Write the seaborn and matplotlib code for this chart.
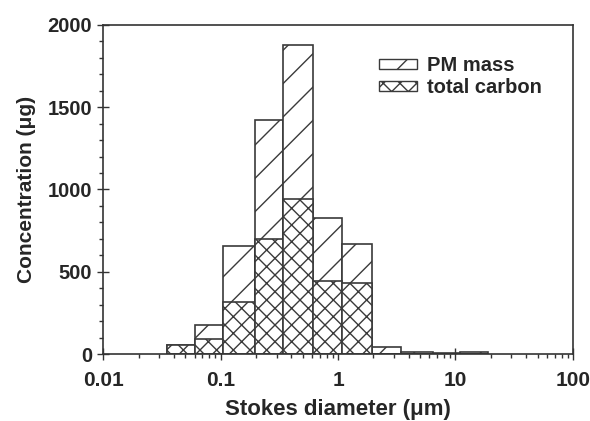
import numpy as np
import pandas as pd
import matplotlib
matplotlib.use("Agg")
import matplotlib.pyplot as plt
import seaborn as sns
from matplotlib.ticker import MultipleLocator, LogLocator, FixedLocator, NullFormatter
from matplotlib.patches import Patch

# bin edges of the impactor stages (um)
bin_edges = [0.035, 0.061, 0.105, 0.197, 0.342, 0.609, 1.07, 1.94, 3.44, 6.4, 11.0, 19.0]
pm_mass = [55, 176, 656, 1422, 1877, 828, 669, 44, 10, 8, 12]
total_carbon = [55, 89, 315, 697, 942, 446, 433, 0, 0, 0, 0]

x_ticks = [0.01, 0.1, 1, 10, 100]
x_labels = ["0.01", "0.1", "1", "10", "100"]

sns.set_style("ticks")
plt.rcParams["font.family"] = ["Liberation Sans", "DejaVu Sans"]
plt.rcParams["font.weight"] = "bold"
plt.rcParams["hatch.linewidth"] = 1.0

edges = np.array(bin_edges)
mids = np.sqrt(edges[:-1] * edges[1:])
df = pd.DataFrame({"diam": mids, "pm": pm_mass, "tc": total_carbon})
log_bins = list(np.log10(edges))  # histplot bins in log space when log_scale=True

fig = plt.figure(figsize=(5.9, 4.21), dpi=100)
ax = fig.add_axes([0.175, 0.159, 0.796, 0.782])

edge_col = "#3a3a3a"
sns.histplot(data=df, x="diam", weights="pm", bins=log_bins, log_scale=True,
             stat="count", element="bars", fill=True, color="white",
             edgecolor=edge_col, linewidth=1.2, hatch="/", alpha=1, ax=ax)
sns.histplot(data=df, x="diam", weights="tc", bins=log_bins, log_scale=True,
             stat="count", element="bars", fill=True, color="white",
             edgecolor=edge_col, linewidth=1.2, hatch="xx", alpha=1, ax=ax)

ax.set_xscale("log")
ax.set_xlim(0.01, 100)
ax.set_ylim(0, 2000)
ax.xaxis.set_major_locator(FixedLocator(x_ticks))
ax.set_xticklabels(x_labels)
ax.xaxis.set_minor_locator(LogLocator(base=10, subs=np.arange(2, 10)))
ax.xaxis.set_minor_formatter(NullFormatter())
ax.yaxis.set_major_locator(MultipleLocator(500))
ax.yaxis.set_minor_locator(MultipleLocator(100))

ax.tick_params(axis="both", which="major", direction="inout", length=8, width=1,
               top=False, right=False, color="#333333")
ax.tick_params(axis="x", which="major", pad=8.5, labelsize=15)
ax.tick_params(axis="y", which="major", pad=4, labelsize=14.5)
ax.tick_params(axis="both", which="minor", direction="out", length=3, width=1,
               top=False, right=False, color="#333333")
for lab in ax.get_xticklabels() + ax.get_yticklabels():
    lab.set_fontweight("bold")
for sp in ax.spines.values():
    sp.set_visible(True)
    sp.set_linewidth(1.2)
    sp.set_color("#333333")

ax.set_xlabel("Stokes diameter (\u03bcm)", fontsize=16, fontweight="bold", labelpad=6)
ax.set_ylabel("Concentration (\u03bcg)", fontsize=15, fontweight="bold", labelpad=8)

handles = [Patch(facecolor="white", edgecolor=edge_col, hatch="/", label="PM mass"),
           Patch(facecolor="white", edgecolor=edge_col, hatch="xx", label="total carbon")]
leg = ax.legend(handles=handles, loc="upper left", bbox_to_anchor=(0.588, 0.905),
                frameon=False, borderpad=0, borderaxespad=0,
                handlelength=1.85, handleheight=0.45,
                handletextpad=0.5, labelspacing=0.15, prop={"weight": "bold", "size": 14.5})

fig.savefig("out.png", dpi=100)
